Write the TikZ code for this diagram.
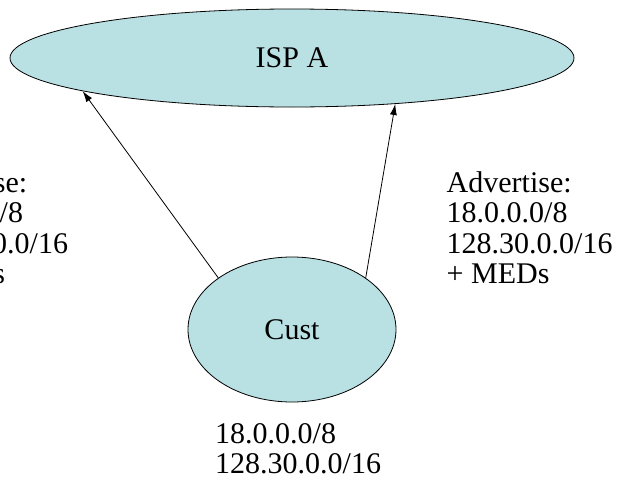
\documentclass[tikz,border=0pt]{standalone}
\usepackage{fontspec}
\setmainfont{Liberation Serif}
\usetikzlibrary{shapes.geometric,arrows.meta}
\definecolor{cloudfill}{RGB}{185,224,227}
\tikzset{
  cloud/.style={ellipse, draw=black, line width=0.8pt, fill=cloudfill, inner sep=0pt,
    font=\fontsize{30}{30}\selectfont},
  adv/.style={-{Latex[length=11pt,width=7pt]}, line width=0.8pt},
  % base west of a multi-line node sits on the baseline of its last line
  lbl/.style={anchor=base west, inner sep=0pt, align=left,
    font=\fontsize{30}{30.5}\selectfont}
}
\begin{document}
\begin{tikzpicture}[x=1pt,y=1pt]
  \useasboundingbox (0,0) rectangle (625,-485);
  \clip (0,0) rectangle (625,-485);
  % provider and customer networks
  \node[cloud, minimum width=564pt, minimum height=98pt] (isp) at (292,-58) {ISP A};
  \node[cloud, minimum width=208pt, minimum height=145pt] (cust) at (292,-329.5) {Cust};
  % route advertisements on the two links
  \draw[adv] (cust.145) -- (isp.189.8);
  \draw[adv] (cust.35) -- (isp.336.6);
  % labels
  \node[lbl] (advleft) at (-98,-283.5) {Advertise:\\18.0.0.0/8\\128.30.0.0/16\\+ MEDs};
  \node[lbl] (advright) at (446.5,-283.5) {Advertise:\\18.0.0.0/8\\128.30.0.0/16\\+ MEDs};
  \node[lbl] (prefixes) at (215,-473.5) {18.0.0.0/8\\128.30.0.0/16};
\end{tikzpicture}
\end{document}
